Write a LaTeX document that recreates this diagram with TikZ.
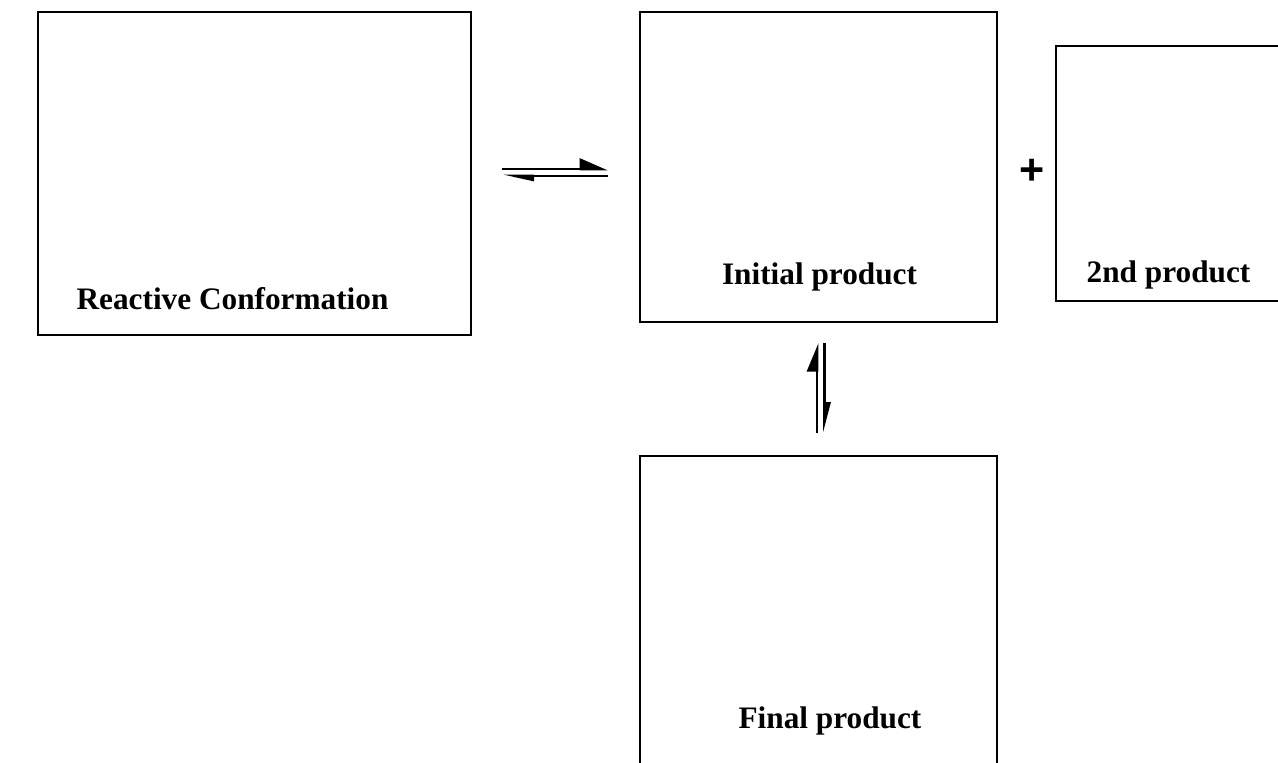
\documentclass[tikz,border=0pt]{standalone}
\usepackage{fontspec}
\setmainfont{Liberation Serif}
\newfontfamily\plusfont{Liberation Sans}
\usetikzlibrary{arrows.meta}

\tikzset{
  molbox/.style={draw, line width=1.5pt, rectangle, inner sep=0pt, outer sep=0pt, anchor=north west},
  boxlabel/.style={anchor=base, inner sep=0pt, font=\fontsize{17.8}{20}\selectfont\bfseries},
  halfarrow/.style={line width=1.6pt},
}

\begin{document}
\begin{tikzpicture}[x=0.02cm, y=-0.02cm]
  \useasboundingbox (0,0) rectangle (1278,763);
  \clip (0,0) rectangle (1278,763);

  % structures
  \node[molbox, minimum width=8.66cm, minimum height=6.46cm] (rc) at (38,12) {};
  \node[molbox, minimum width=7.14cm, minimum height=6.20cm] (ip) at (640,12) {};
  \node[molbox, minimum width=6.00cm, minimum height=5.10cm] (sp) at (1056,46) {};
  \node[molbox, minimum width=7.14cm, minimum height=6.50cm] (fp) at (640,456) {};

  \node[boxlabel] (rclabel) at (232.5,310) {Reactive Conformation};
  \node[boxlabel] (iplabel) at (819.5,285) {Initial product};
  \node[boxlabel] (splabel) at (1168.5,283) {2nd product};
  \node[boxlabel] (fplabel) at (830,728) {Final product};

  \node[inner sep=0pt, font=\fontsize{24.5}{25}\plusfont\bfseries] (plus) at (1032,172) {+};

  % equilibrium arrows
  \coordinate (fwdA) at (502,169);
  \coordinate (fwdB) at (608,169);
  \coordinate (revA) at (608,176);
  \coordinate (revB) at (502,176);
  \draw[halfarrow, -{Triangle[left, length=0.5cm, width=0.42cm]}] (fwdA) -- (fwdB);
  \draw[halfarrow, -{Triangle[left, length=0.5cm, width=0.2cm]}] (revA) -- (revB);

  \coordinate (upA) at (817,433);
  \coordinate (upB) at (817,343);
  \coordinate (downA) at (824.5,343);
  \coordinate (downB) at (824.5,433);
  \draw[halfarrow, -{Triangle[left, length=0.5cm, width=0.4cm]}] (upA) -- (upB);
  \draw[halfarrow, -{Triangle[left, length=0.5cm, width=0.24cm]}] (downA) -- (downB);
\end{tikzpicture}
\end{document}
